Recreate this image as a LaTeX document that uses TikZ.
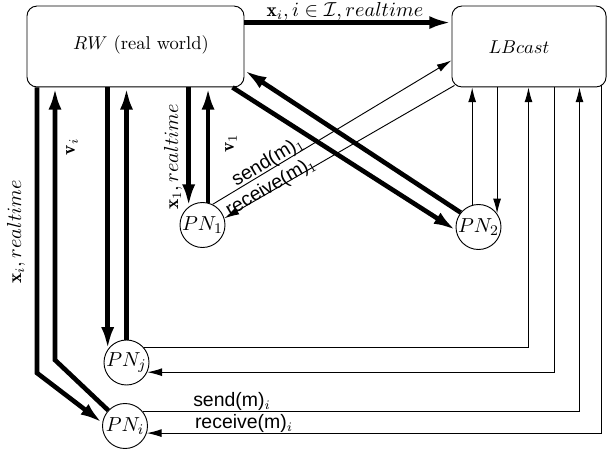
\documentclass[tikz,border=0pt]{standalone}
\usepackage{fontspec}
\setsansfont{Liberation Sans}
\usetikzlibrary{arrows.meta,calc}
\begin{document}
\begin{tikzpicture}[x=0.54pt,y=-0.54pt,
  box/.style={draw,rounded corners=5.4pt,line width=0.5pt,inner sep=0pt},
  pn/.style={draw,circle,minimum size=24.3pt,inner sep=0pt,line width=0.5pt,font=\fontsize{11}{13}\selectfont},
  fat/.style={line width=2.5pt,-{Latex[length=12pt,width=7pt]}},
  slim/.style={line width=0.5pt,-{Latex[length=8pt,width=4.3pt]}},
  lbl/.style={font=\fontsize{10.5}{12}\selectfont,inner sep=0pt},
  slbl/.style={font=\sffamily\fontsize{10.5}{12}\selectfont,inner sep=0pt}]
\useasboundingbox (0,0) rectangle (608,453);
% boxes
\node[box,minimum width=117.2pt,minimum height=43.7pt] (RW) at (135.5,46.5) {};
\node[lbl,font=\fontsize{10}{12}\selectfont] (RWt) at (141,45) {$RW$ (real world)};
\node[box,minimum width=83.2pt,minimum height=43.7pt] (LBcast) at (529,46.5) {};
\node[lbl,font=\fontsize{10}{12}\selectfont] (LBt) at (519,47) {$LBcast$};
% process nodes
\node[pn] (PN1) at (202.5,225) {$PN_1$};
\node[pn] (PN2) at (478.5,227) {$PN_2$};
\node[pn] (PNj) at (126.5,362.5) {$PN_j$};
\node[pn] (PNi) at (125,426) {$PN_i$};
% helper coordinates
\coordinate (t0) at ($(RW.north east)+(0,17)$);
\coordinate (bo) at (37,373);
\coordinate (bi) at (55,360);
\coordinate (l1) at ($(LBcast.south west)+(77,0)$);
\coordinate (l2) at ($(LBcast.south west)+(103,0)$);
\coordinate (l3) at ($(LBcast.south west)+(128,0)$);
\coordinate (l4) at ($(LBcast.south west)+(150,-2)$);
% thick connectors
\draw[fat] (t0) -- (t0 -| LBcast.west);
\draw[fat] ($(RW.south east)+(-12,0)$) -- (PN2.188);
\draw[fat] (PN2.141) -- ($(RW.south east)+(0,-17)$);
\draw[fat] (PN1.127 |- RW.south) -- (PN1.127);
\draw[fat] (PN1.76) -- (PN1.76 |- RW.south);
\draw[fat] (PNj.145 |- RW.south) -- (PNj.145);
\draw[fat] (PNj.north) -- (PNj.north |- RW.south);
\draw[fat] (bo |- RW.south) -- (bo) -- (PNi.172);
\draw[fat] (PNi.137) -- (bi) -- (bi |- RW.south);
% thin connectors
\draw[slim] (PN1.64) -- ($(LBcast.south west)+(0,-27)$);
\draw[slim] ($(LBcast.south west)+(3,-2)$) -- (PN1.17);
\draw[slim] (PN2.106) -- (PN2.106 |- LBcast.south);
\draw[slim] (PN2.36 |- LBcast.south) -- (PN2.36);
\draw[slim] (PNj.40) -| (l1);
\draw[slim] (l2) |- (PNj.-25);
\draw[slim] (PNi.38) -| (l3);
\draw[slim] (l4) |- (PNi.-18);
% labels
\node[lbl] (ltop) at (345,11.5) {$\mathbf{x}_i, i \in \mathcal{I}, realtime$};
\node[lbl,rotate=90] (lxi) at (16,232) {$\mathbf{x}_i, realtime$};
\node[lbl,rotate=90] (lvi) at (72,147) {$\mathbf{v}_i$};
\node[lbl,rotate=90] (lx1) at (173,157) {$\mathbf{x}_1, realtime$};
\node[lbl,rotate=90] (lv1) at (231,143) {$\mathbf{v}_1$};
\node[slbl,rotate=31] (ls1) at (268,162) {send(m)$_1$};
\node[slbl,rotate=30] (lr1) at (271,187) {receive(m)$_1$};
\node[slbl] (lsi) at (232,401) {send(m)$_i$};
\node[slbl] (lri) at (244,423) {receive(m)$_i$};
\end{tikzpicture}
\end{document}
